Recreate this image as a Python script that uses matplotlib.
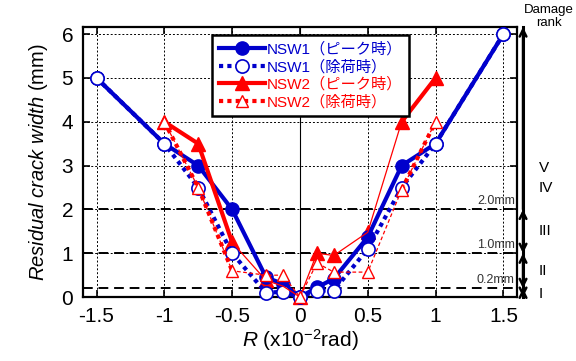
import matplotlib
matplotlib.use("Agg")
import matplotlib.pyplot as plt
from matplotlib.transforms import blended_transform_factory

plt.rcParams['font.family'] = ['Liberation Sans', 'Noto Sans CJK JP', 'DejaVu Sans']
plt.rcParams['mathtext.fontset'] = 'custom'
plt.rcParams['mathtext.rm'] = 'Liberation Sans'
plt.rcParams['mathtext.it'] = 'Liberation Sans:italic'

# drift angle R (x10^-2 rad)
r_nsw1 = [-1.5, -1, -0.75, -0.5, -0.25, -0.125, 0, 0.125, 0.25, 0.5, 0.75, 1, 1.5]
nsw1_peak = [5.0, 3.5, 3.0, 2.0, 0.45, 0.3, 0.0, 0.22, 0.42, 1.37, 3.0, 3.5, 6.0]
nsw1_unload = [5.0, 3.5, 2.5, 1.0, 0.1, 0.12, 0.0, 0.15, 0.15, 1.1, 2.5, 3.5, 6.0]

r_nsw2 = [-1, -0.75, -0.5, -0.25, -0.125, 0, 0.125, 0.25, 0.5, 0.75, 1]
nsw2_peak = [4.0, 3.5, 1.25, 0.38, 0.25, 0.0, 1.0, 0.95, 1.48, 4.0, 5.0]
nsw2_unload = [4.0, 2.5, 0.6, 0.5, 0.5, 0.0, 0.78, 0.57, 0.57, 2.45, 4.0]

labels = ['NSW1（ピーク時）', 'NSW1（除荷時）', 'NSW2（ピーク時）', 'NSW2（除荷時）']
x_ticks = [-1.5, -1, -0.5, 0, 0.5, 1, 1.5]
x_ticklabels = ['-1.5', '-1', '-0.5', '0', '0.5', '1', '1.5']
y_ticks = [0, 1, 2, 3, 4, 5, 6]

# damage rank limits (mm)
limits = [0.2, 1.0, 2.0]
limit_labels = ['0.2mm', '1.0mm', '2.0mm']
ranks = ['I', 'II', 'III', 'IV', 'V']
rank_y = [0.08, 0.6, 1.5, 2.5, 2.95]

blue = '#0000cc'
red = '#ff0000'

fig = plt.figure(figsize=(5.76, 3.61), dpi=100)
ax = fig.add_axes([0.144, 0.177, 0.7535, 0.748])
ax.set_xlim(-1.6, 1.6)
ax.set_ylim(0, 6.16)

# grid
for xv in x_ticks:
    if xv == 0:
        ax.axvline(xv, color='k', lw=0.8, zorder=1)
    else:
        ax.axvline(xv, color='k', lw=0.7, ls=(0, (2, 2)), zorder=1)
for yv in y_ticks[1:]:
    ax.axhline(yv, color='k', lw=0.7, ls=(0, (2, 2)), zorder=1)
for yv, lab in zip(limits, limit_labels):
    ax.axhline(yv, color='k', lw=1.4, ls=(0, (5, 3)), zorder=1)
    ax.text(0.995, yv + 0.05, lab, transform=blended_transform_factory(ax.transAxes, ax.transData),
            ha='right', va='bottom', fontsize=9, color='#333333')

# NSW1
h1, = ax.plot(r_nsw1, nsw1_peak, color=blue, lw=3, marker='o', ms=9.5,
              mfc=blue, mec=blue, zorder=3, clip_on=False)
h2, = ax.plot(r_nsw1, nsw1_unload, color=blue, lw=3, ls=(0, (1, 1)), marker='o', ms=9.5,
              mfc='white', mec=blue, mew=1.2, zorder=4, clip_on=False)

# NSW2: thin inner segments, thick outer segments
ax.plot(r_nsw2, nsw2_peak, color=red, lw=0.9, zorder=5)
ax.plot(r_nsw2[:3], nsw2_peak[:3], color=red, lw=3, zorder=5)
ax.plot(r_nsw2[-2:], nsw2_peak[-2:], color=red, lw=3, zorder=5)
ax.plot(r_nsw2, nsw2_peak, ls='none', marker='^', ms=9.5, mfc=red, mec=red, zorder=2.5, clip_on=False)

ax.plot(r_nsw2, nsw2_unload, color=red, lw=0.9, ls=(0, (3, 2)), zorder=6)
ax.plot(r_nsw2[:3], nsw2_unload[:3], color=red, lw=3, ls=(0, (1, 1)), zorder=6)
ax.plot(r_nsw2[-2:], nsw2_unload[-2:], color=red, lw=3, ls=(0, (1, 1)), zorder=6)
ax.plot(r_nsw2, nsw2_unload, ls='none', marker='^', ms=8.5, mfc='white', mec=red, mew=1.0,
        zorder=6, clip_on=False)

h3, = ax.plot([], [], color=red, lw=3, marker='^', ms=9.5, mfc=red, mec=red)
h4, = ax.plot([], [], color=red, lw=3, ls=(0, (1, 1)), marker='^', ms=8.5, mfc='white', mec=red)

leg = ax.legend([h1, h2, h3, h4], labels, loc='upper left', bbox_to_anchor=(0.297, 0.97),
                borderaxespad=0, fancybox=False, framealpha=1, edgecolor='k',
                fontsize=11, handlelength=3.0, handletextpad=0.15, labelspacing=0.2,
                borderpad=0.45)
leg.get_frame().set_linewidth(1.8)
for txt, c in zip(leg.get_texts(), [blue, blue, red, red]):
    txt.set_color(c)
leg.set_zorder(10)

# axes style
for sp in ax.spines.values():
    sp.set_linewidth(1.6)
ax.set_xticks(x_ticks)
ax.set_xticklabels(x_ticklabels)
ax.set_yticks(y_ticks)
ax.tick_params(direction='in', length=5, width=1.2, labelsize=15, top=True, right=True, pad=7)
ax.set_xlabel('$R$ (x10$^{\\mathregular{-2}}$rad)', fontsize=15, labelpad=1)
ax.set_ylabel('$Residual\\ crack\\ width$ (mm)', fontsize=14.5, labelpad=8)

# damage rank scale
tr = blended_transform_factory(ax.transAxes, ax.transData)
xr = 1.014
ax.plot([xr, xr], [0, 6.16], color='k', lw=2.2, transform=tr, clip_on=False)
bounds = [0, 0.2, 1.0, 2.0, 6.16]
for i in range(len(bounds) - 1):
    style = '<->' if i < len(bounds) - 2 else '<-'
    ax.annotate('', xy=(xr, bounds[i]), xytext=(xr, bounds[i + 1]), xycoords=tr, textcoords=tr,
                arrowprops=dict(arrowstyle=style, color='k', lw=1.8, mutation_scale=12,
                                shrinkA=0, shrinkB=0))
for rk, yv in zip(ranks, rank_y):
    ax.text(1.05, yv, rk, transform=tr, ha='left', va='center', fontsize=11)
fig.text(0.953, 0.99, 'Damage\nrank', ha='center', va='top', fontsize=9.5, linespacing=1.1)

fig.savefig('out.png', dpi=100)
